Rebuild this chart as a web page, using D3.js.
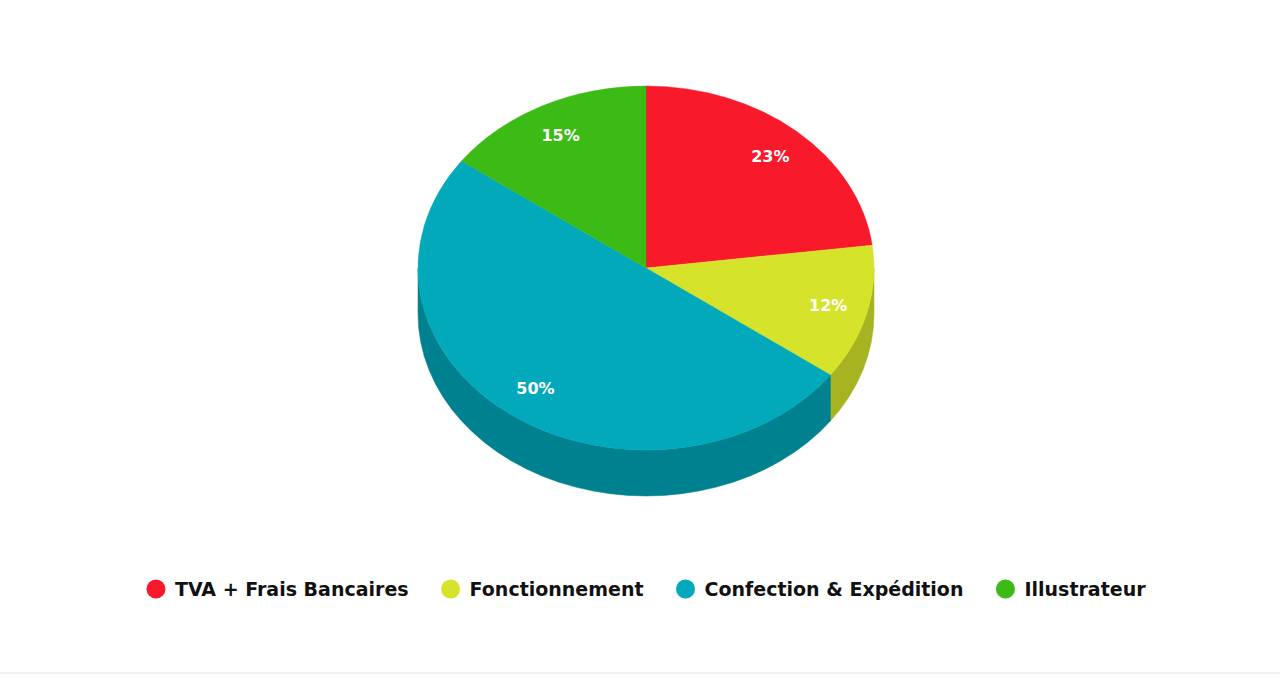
<!DOCTYPE html>
<html>
<head>
<meta charset="utf-8">
<script src="https://cdn.jsdelivr.net/npm/d3@7/dist/d3.min.js"></script>
<style>
  body { margin: 0; background: #ffffff; }
  svg { display: block; font-family: "DejaVu Sans", "Liberation Sans", Arial, sans-serif; }
</style>
</head>
<body>
<div id="chart"></div>
<script>
// Data
const categories = ["TVA + Frais Bancaires", "Fonctionnement", "Confection & Expédition", "Illustrateur"];
const shares = [23, 12, 50, 15];
const topColors = ["#f8192a", "#d5e42b", "#02a9bb", "#3cba16"];
const sideColors = ["#c21420", "#a7b422", "#00818f", "#2e9111"];

const width = 1280, height = 693;
const cx = 646, cy = 268;
const rx = 228, ry = 182, depth = 46;

const svg = d3.select('#chart')
    .append('svg')
    .attr('width', width)
    .attr('height', height);

const data = categories.map((c, i) => ({ name: c, value: shares[i] }));

const pie = d3.pie()
    .sort(null)
    .value(d => d.value);

const arcs = pie(data);

const topColor = d3.scaleOrdinal().domain(categories).range(topColors);
const sideColor = d3.scaleOrdinal().domain(categories).range(sideColors);

// point on ellipse, angle measured clockwise from 12 o'clock
function pt(a, dy) {
    return [cx + rx * Math.sin(a), cy - ry * Math.cos(a) + (dy || 0)];
}

// side wall for the visible front part of a slice
function sidePath(a0, a1) {
    const s = Math.max(a0, Math.PI / 2);
    const e = Math.min(a1, 3 * Math.PI / 2);
    if (e <= s) return null;
    const p0 = pt(s), p1 = pt(e), p2 = pt(e, depth), p3 = pt(s, depth);
    return `M${p0[0]},${p0[1]} A${rx},${ry} 0 0 1 ${p1[0]},${p1[1]}` +
        ` L${p2[0]},${p2[1]} A${rx},${ry} 0 0 0 ${p3[0]},${p3[1]} Z`;
}

// Draw sides
svg.append('g')
    .selectAll('path')
    .data(arcs.filter(d => sidePath(d.startAngle, d.endAngle)))
    .enter()
    .append('path')
    .attr('d', d => sidePath(d.startAngle, d.endAngle))
    .attr('fill', d => sideColor(d.data.name))
    .attr('stroke', d => sideColor(d.data.name))
    .attr('stroke-width', 0.5);

// Draw top faces (circle squashed into ellipse)
const arc = d3.arc().innerRadius(0).outerRadius(rx);

svg.append('g')
    .attr('transform', `translate(${cx},${cy}) scale(1,${ry / rx})`)
    .selectAll('path')
    .data(arcs)
    .enter()
    .append('path')
    .attr('d', arc)
    .attr('fill', d => topColor(d.data.name))
    .attr('stroke', d => topColor(d.data.name))
    .attr('stroke-width', 0.5);

// Percentage labels
svg.append('g')
    .selectAll('text')
    .data(arcs)
    .enter()
    .append('text')
    .attr('x', d => cx + rx * 0.825 * Math.sin((d.startAngle + d.endAngle) / 2))
    .attr('y', d => cy - ry * 0.82 * Math.cos((d.startAngle + d.endAngle) / 2))
    .attr('text-anchor', 'middle')
    .attr('dominant-baseline', 'central')
    .attr('fill', '#ffffff')
    .style('font-weight', 'bold')
    .style('font-size', '16px')
    .text(d => d.data.value + '%');

// Legend
const legend = svg.append('g');
const items = legend.selectAll('g')
    .data(categories)
    .enter()
    .append('g');

items.append('circle')
    .attr('r', 9.5)
    .attr('cx', 0)
    .attr('cy', 0)
    .attr('fill', d => topColor(d));

items.append('text')
    .attr('x', 19)
    .attr('y', 0)
    .attr('dominant-baseline', 'central')
    .style('font-weight', 'bold')
    .style('font-size', '19px')
    .attr('fill', '#111111')
    .text(d => d);

// lay out items side by side, centred
const gap = 42;
let widths = [];
items.each(function() {
    widths.push(19 + d3.select(this).select('text').node().getComputedTextLength());
});
const total = d3.sum(widths) + gap * (widths.length - 1) + 9.5;
let xpos = cx - total / 2 + 9.5;
items.attr('transform', (d, i) => {
    const t = `translate(${xpos},589)`;
    xpos += widths[i] + gap;
    return t;
});

// bottom separator line
svg.append('line')
    .attr('x1', 0)
    .attr('x2', width)
    .attr('y1', 673)
    .attr('y2', 673)
    .attr('stroke', '#f0f0f0')
    .attr('stroke-width', 2);
</script>
</body>
</html>
